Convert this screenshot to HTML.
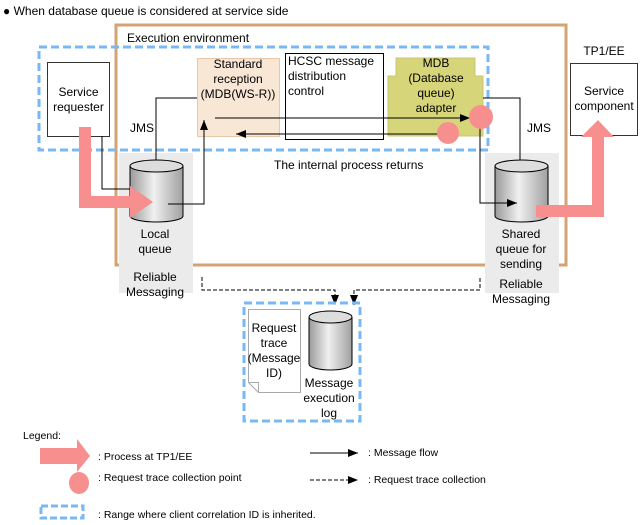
<!DOCTYPE html>
<html><head><style>body{margin:0;background:#fff}svg{display:block;font-family:"Liberation Sans",Arial,sans-serif;font-size:12px}</style></head><body>
<svg width="641" height="525" viewBox="0 0 641 525">
<defs>
<linearGradient id="cyl" x1="0" x2="1"><stop offset="0" stop-color="#9a9a9a"/><stop offset="0.45" stop-color="#f0f0f0"/><stop offset="1" stop-color="#a0a0a0"/></linearGradient>
<marker id="ah" markerWidth="10" markerHeight="8" refX="10" refY="4" orient="auto" markerUnits="userSpaceOnUse"><path d="M0,0L10,4L0,8z" fill="#000"/></marker>
</defs>
<text x="3" y="15">● When database queue is considered at service side</text>
<!-- exec env -->
<rect x="116" y="25" width="450" height="240" fill="none" stroke="#d4a373" stroke-width="3"/>
<!-- gray bands -->
<rect x="119" y="153" width="74" height="140" fill="#ebebeb"/>
<rect x="485" y="153" width="74" height="140" fill="#ebebeb"/>
<text x="127" y="42">Execution environment</text>
<!-- blue dashed -->
<rect x="39" y="47" width="449" height="103" fill="none" stroke="#7ab8f5" stroke-width="3" stroke-dasharray="8,4"/>
<!-- boxes -->
<rect x="47.5" y="62.5" width="62" height="74" fill="#fff" stroke="#333"/>
<text x="78.5" y="96" text-anchor="middle">Service</text><text x="78.5" y="111" text-anchor="middle">requester</text>
<rect x="197.5" y="58.5" width="82" height="78" fill="#f9e7d6" stroke="#e8c8a8"/>
<text x="238" y="68" text-anchor="middle">Standard</text><text x="238" y="83" text-anchor="middle">reception</text><text x="238" y="98" text-anchor="middle">(MDB(WS-R))</text>
<rect x="285.5" y="53.5" width="98" height="86" fill="#fff" stroke="#000"/>
<text x="288" y="65">HCSC message</text><text x="288" y="80">distribution</text><text x="288" y="95">control</text>
<path d="M396,58H475V76H483V136H388V76H396Z" fill="#d6d57a" stroke="#c8c870"/>
<text x="436" y="67" text-anchor="middle">MDB</text><text x="436" y="82" text-anchor="middle">(Database</text><text x="436" y="97" text-anchor="middle">queue)</text><text x="436" y="112" text-anchor="middle">adapter</text>
<rect x="570.5" y="63.5" width="67" height="72" fill="#fff" stroke="#333"/>
<text x="604" y="55" text-anchor="middle">TP1/EE</text>
<text x="604" y="95" text-anchor="middle">Service</text><text x="604" y="110" text-anchor="middle">component</text>
<!-- cylinders -->
<g stroke="#000" stroke-width="1">
<path d="M130,166V216A26.5,6 0 0 0 183,216V166" fill="url(#cyl)"/><ellipse cx="156.5" cy="166" rx="26.5" ry="6" fill="#ddd"/>
<path d="M495,166V216A26.5,6 0 0 0 548,216V166" fill="url(#cyl)"/><ellipse cx="521.5" cy="166" rx="26.5" ry="6" fill="#ddd"/>
<path d="M309,317V364A21.5,6 0 0 0 352,364V317" fill="url(#cyl)"/><ellipse cx="330.5" cy="317" rx="21.5" ry="6" fill="#ddd"/>
</g>
<text x="155" y="238" text-anchor="middle">Local</text><text x="155" y="253" text-anchor="middle">queue</text>
<text x="155" y="281" text-anchor="middle">Reliable</text><text x="155" y="296" text-anchor="middle">Messaging</text>
<text x="521" y="238" text-anchor="middle">Shared</text><text x="521" y="253" text-anchor="middle">queue for</text><text x="521" y="268" text-anchor="middle">sending</text>
<text x="521" y="288" text-anchor="middle">Reliable</text><text x="521" y="303" text-anchor="middle">Messaging</text>
<text x="130" y="132">JMS</text><text x="527" y="132">JMS</text>
<text x="274" y="169">The internal process returns</text>
<!-- message lines -->
<g fill="none" stroke="#000" stroke-width="1">
<path d="M102,136V189H130"/>
<path d="M156,160V98H197"/>
<path d="M168,204H204V120" marker-end="url(#ah)"/>
<path d="M215,118H470" marker-end="url(#ah)"/>
<path d="M448,134H236" marker-end="url(#ah)"/>
<path d="M483,98H520V160"/>
<path d="M480,128V203H517" marker-end="url(#ah)"/>
<path d="M202,277V290H335V305" stroke-dasharray="4,2" marker-end="url(#ah)"/>
<path d="M480,278V290H354V305" stroke-dasharray="4,2" marker-end="url(#ah)"/>
</g>
<!-- pink arrows -->
<path d="M79,127H91V196H130V186L153,202L130,218V208H79Z" fill="#f78f8f"/>
<path d="M536,205H592V137H581L598,120L614,137H604V217H536Z" fill="#f78f8f"/>
<circle cx="448" cy="133" r="11" fill="#f78f8f"/>
<circle cx="481" cy="117" r="12" fill="#f78f8f"/>
<!-- bottom box -->
<rect x="244" y="303" width="116" height="118" fill="none" stroke="#7ab8f5" stroke-width="3" stroke-dasharray="8,4"/>
<path d="M248.5,309.5H300.5V392.5H258.5L248.5,382.5Z" fill="#fff" stroke="#aaa"/>
<path d="M248.5,382.5H258.5V392.5" fill="none" stroke="#aaa"/>
<text x="274" y="332" text-anchor="middle">Request</text><text x="274" y="347" text-anchor="middle">trace</text><text x="274" y="362" text-anchor="middle">(Message</text><text x="274" y="377" text-anchor="middle">ID)</text>
<text x="329" y="387" text-anchor="middle">Message</text><text x="329" y="402" text-anchor="middle">execution</text><text x="329" y="417" text-anchor="middle">log</text>
<!-- legend -->
<g font-size="10.5">
<text x="23" y="439">Legend:</text>
<path d="M40,448H77V439L90,456L77,472V464H40Z" fill="#f78f8f"/>
<text x="98" y="460">: Process at TP1/EE</text>
<ellipse cx="79" cy="483" rx="10" ry="11" fill="#f78f8f"/>
<text x="98" y="481">: Request trace collection point</text>
<rect x="41" y="506" width="42" height="12" fill="none" stroke="#7ab8f5" stroke-width="3" stroke-dasharray="7,3"/>
<text x="98" y="518">: Range where client correlation ID is inherited.</text>
<path d="M310,453H358" stroke="#000" marker-end="url(#ah)"/>
<text x="368" y="456">: Message flow</text>
<path d="M310,480H358" stroke="#000" stroke-dasharray="4,2" marker-end="url(#ah)"/>
<text x="368" y="483">: Request trace collection</text>
</g>
</svg>
</body></html>
